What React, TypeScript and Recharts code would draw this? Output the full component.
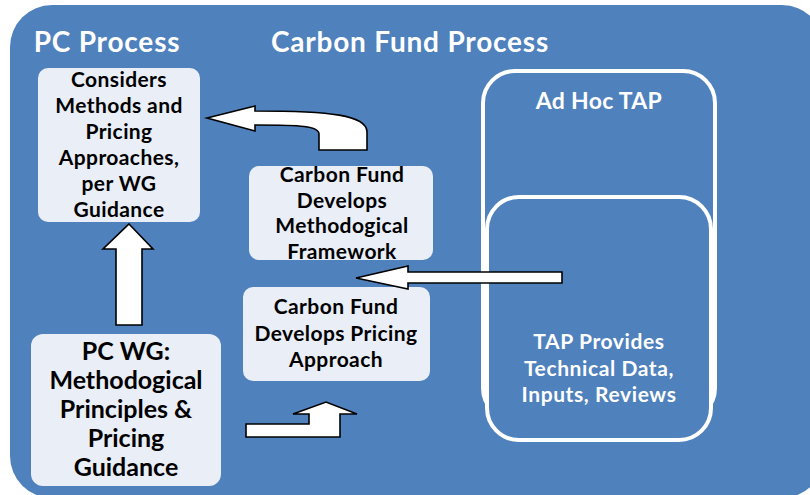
import React from "react";
import { ComposedChart, XAxis, YAxis, ReferenceArea } from "recharts";

// text content of the diagram
const sectionTitles = ["PC Process", "Carbon Fund Process"];
const considersLines = ["Considers", "Methods and", "Pricing", "Approaches,", "per WG", "Guidance"];
const frameworkLines = ["Carbon Fund", "Develops", "Methodogical", "Framework"];
const pricingLines = ["Carbon Fund", "Develops Pricing", "Approach"];
const guidanceLines = ["PC WG:", "Methodogical", "Principles &", "Pricing", "Guidance"];
const tapTitleLines = ["Ad Hoc TAP"];
const tapLines = ["TAP Provides", "Technical Data,", "Inputs, Reviews"];

const W = 810;
const H = 495;
const BLUE = "#4f81bd";
const PALE = "#e9eef7";
const FONT = "Lato, 'Open Sans', sans-serif";

type Box = {
  x1: number; x2: number; y1: number; y2: number;
  fill: string; stroke?: string; sw?: number; rx: number;
  lines?: string[]; cx?: number; base?: number; lh?: number; size?: number; ls?: number; color?: string;
};

const layout: Box[] = [
  { x1: 10, x2: 824, y1: 5, y2: 498, fill: BLUE, rx: 42 },
  { x1: 20, x2: 200, y1: 20, y2: 60, fill: "none", rx: 0, lines: [sectionTitles[0]], cx: 107, base: 52, lh: 0, size: 28, ls: 0.8, color: "#fff" },
  { x1: 260, x2: 560, y1: 20, y2: 60, fill: "none", rx: 0, lines: [sectionTitles[1]], cx: 410, base: 52, lh: 0, size: 28, ls: 0.8, color: "#fff" },
  { x1: 38, x2: 200, y1: 68, y2: 222, fill: PALE, rx: 10, lines: considersLines, cx: 119, base: 87, lh: 26, size: 21, ls: 0.4, color: "#000" },
  { x1: 249, x2: 433, y1: 166, y2: 260, fill: PALE, rx: 10, lines: frameworkLines, cx: 342, base: 182, lh: 25.5, size: 21, ls: 0.4, color: "#000" },
  { x1: 243, x2: 430, y1: 287, y2: 381, fill: PALE, rx: 10, lines: pricingLines, cx: 336, base: 314, lh: 26.5, size: 21, ls: 0.4, color: "#000" },
  { x1: 31, x2: 221, y1: 334, y2: 486, fill: PALE, rx: 12, lines: guidanceLines, cx: 126, base: 360, lh: 29, size: 25, ls: 0, color: "#000" },
  { x1: 483, x2: 715, y1: 71, y2: 420, fill: BLUE, stroke: "#fff", sw: 4, rx: 32, lines: tapTitleLines, cx: 599, base: 109, lh: 0, size: 23, ls: 0.3, color: "#fff" },
  { x1: 487, x2: 711, y1: 197, y2: 440, fill: BLUE, stroke: "#fff", sw: 4, rx: 32, lines: tapLines, cx: 599, base: 349, lh: 26.5, size: 21, ls: 0.6, color: "#fff" },
];

type Arrow = { x1: number; x2: number; y1: number; y2: number; d: (string | number)[][] };

const arrows: Arrow[] = [
  {
    x1: 200, x2: 372, y1: 100, y2: 155,
    d: [["M", 207, 118], ["L", 255, 106], ["L", 255, 111], ["C", 330, 111, 367, 115, 367, 132], ["L", 367, 150], ["L", 319, 150], ["L", 319, 134], ["C", 319, 126, 300, 125, 257, 125], ["L", 255, 125], ["L", 255, 131], ["Z"]],
  },
  {
    x1: 100, x2: 156, y1: 220, y2: 330,
    d: [["M", 129, 224], ["L", 153, 249], ["L", 142, 249], ["L", 142, 325], ["L", 116, 325], ["L", 116, 249], ["L", 103, 249], ["Z"]],
  },
  {
    x1: 350, x2: 566, y1: 262, y2: 293,
    d: [["M", 356, 278], ["L", 408, 266], ["L", 408, 272], ["L", 562, 272], ["L", 562, 283], ["L", 408, 283], ["L", 408, 289], ["Z"]],
  },
  {
    x1: 242, x2: 360, y1: 398, y2: 440,
    d: [["M", 246, 424], ["L", 309, 424], ["L", 309, 414], ["L", 293, 414], ["L", 326, 402], ["L", 357, 414], ["L", 340, 414], ["L", 340, 437], ["L", 246, 437], ["Z"]],
  },
];

function boxShape(b: Box) {
  return (p: any) => {
    const sx = p.width / (b.x2 - b.x1);
    const sy = p.height / (b.y2 - b.y1);
    const lines = b.lines || [];
    return (
      <g>
        {b.fill !== "none" && (
          <rect x={p.x} y={p.y} width={p.width} height={p.height} rx={b.rx} ry={b.rx}
            fill={b.fill} stroke={b.stroke || "none"} strokeWidth={b.sw || 0} />
        )}
        {lines.length > 0 && (
          <text textAnchor="middle" fontFamily={FONT} fontWeight={700} fontSize={b.size}
            letterSpacing={b.ls || 0} fill={b.color}>
            {lines.map((t, i) => (
              <tspan key={i} x={p.x + ((b.cx as number) - b.x1) * sx}
                y={p.y + ((b.base as number) + i * (b.lh as number) - b.y1) * sy}>{t}</tspan>
            ))}
          </text>
        )}
      </g>
    );
  };
}

function arrowShape(a: Arrow) {
  return (p: any) => {
    const sx = p.width / (a.x2 - a.x1);
    const sy = p.height / (a.y2 - a.y1);
    const d = a.d
      .map((seg) => {
        const [cmd, ...nums] = seg as [string, ...number[]];
        const pts: string[] = [];
        for (let i = 0; i < nums.length; i += 2) {
          pts.push(`${p.x + (nums[i] - a.x1) * sx},${p.y + (nums[i + 1] - a.y1) * sy}`);
        }
        return cmd + pts.join(" ");
      })
      .join(" ");
    return <path d={d} fill="#fff" stroke="#000" strokeWidth={1.6} strokeLinejoin="miter" />;
  };
}

export default function App() {
  return (
    <div style={{ position: "absolute", left: 0, top: 0, width: W, height: H, background: "#fff" }}>
      <ComposedChart width={W} height={H} margin={{ top: 0, right: 0, bottom: 0, left: 0 }} data={[]}>
        <XAxis type="number" dataKey="x" domain={[0, W]} hide allowDataOverflow />
        <YAxis type="number" dataKey="y" domain={[0, H]} reversed hide allowDataOverflow width={0} />
        {layout.slice(0, 7).map((b, i) => (
          <ReferenceArea key={`b${i}`} x1={b.x1} x2={b.x2} y1={b.y1} y2={b.y2}
            ifOverflow="visible" shape={boxShape(b)} />
        ))}
        {arrows.slice(0, 2).map((a, i) => (
          <ReferenceArea key={`a${i}`} x1={a.x1} x2={a.x2} y1={a.y1} y2={a.y2}
            ifOverflow="visible" shape={arrowShape(a)} />
        ))}
        {layout.slice(7).map((b, i) => (
          <ReferenceArea key={`t${i}`} x1={b.x1} x2={b.x2} y1={b.y1} y2={b.y2}
            ifOverflow="visible" shape={boxShape(b)} />
        ))}
        {arrows.slice(2).map((a, i) => (
          <ReferenceArea key={`c${i}`} x1={a.x1} x2={a.x2} y1={a.y1} y2={a.y2}
            ifOverflow="visible" shape={arrowShape(a)} />
        ))}
      </ComposedChart>
    </div>
  );
}
